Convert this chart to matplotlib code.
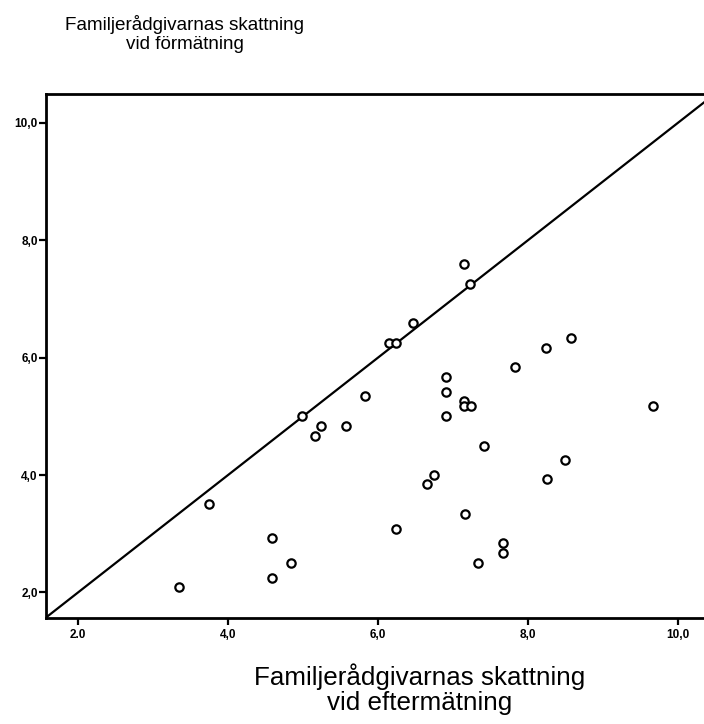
import matplotlib
matplotlib.use("Agg")
import matplotlib.pyplot as plt

plt.rcParams['font.family'] = ['Liberation Sans', 'DejaVu Sans']

# Data: x = eftermätning, y = förmätning
x_efter = [7.14, 7.23, 6.47, 6.15, 6.24, 8.57, 8.24, 7.82, 6.90, 6.90,
           7.15, 7.15, 7.24, 6.90, 5.83, 4.99, 5.24, 5.16, 5.57, 9.66,
           7.41, 8.49, 8.25, 3.75, 6.74, 6.65, 7.16, 6.24, 4.59, 7.67,
           7.67, 4.84, 7.33, 4.59, 3.34]
y_fore = [7.59, 7.26, 6.59, 6.25, 6.25, 6.34, 6.17, 5.84, 5.67, 5.42,
          5.26, 5.17, 5.17, 5.01, 5.34, 5.00, 4.84, 4.67, 4.84, 5.18,
          4.50, 4.25, 3.93, 3.50, 4.00, 3.84, 3.34, 3.08, 2.92, 2.85,
          2.67, 2.50, 2.50, 2.25, 2.09]

x_ticks = [2, 4, 6, 8, 10]
x_ticklabels = ["2.0", "4,0", "6,0", "8,0", "10,0"]
y_ticks = [2, 4, 6, 8, 10]
y_ticklabels = ["2,0", "4,0", "6,0", "8,0", "10,0"]

y_title = "Familjerådgivarnas skattning\nvid förmätning"
x_title = "Familjerådgivarnas skattning\nvid eftermätning"

fig = plt.figure(figsize=(7.04, 7.24), dpi=100)
ax = fig.add_axes([46/704, (724-617.7)/724, (712-46)/704, (617.7-94)/724])

xmin, xmax = 1.573, 2 + (712-78)/75
ymin, ymax = 1.57, 10.49
ax.set_xlim(xmin, xmax)
ax.set_ylim(ymin, ymax)

# identity line
lo, hi = min(xmin, ymin), max(xmax, ymax)
ax.plot([lo, hi], [lo, hi], color='black', lw=1.6, zorder=2)

ax.plot(x_efter, y_fore, linestyle='none', marker='o', markersize=6,
        markerfacecolor='white', markeredgecolor='black', markeredgewidth=1.6,
        zorder=3)

ax.set_xticks(x_ticks)
ax.set_xticklabels(x_ticklabels, fontsize=8.5, fontweight='bold')
ax.set_yticks(y_ticks)
ax.set_yticklabels(y_ticklabels, fontsize=8.5, fontweight='bold')
ax.tick_params(axis='x', direction='out', length=5, width=1.6, pad=3)
ax.tick_params(axis='y', direction='out', length=5, width=1.6, pad=1)

for s in ['left', 'bottom', 'top']:
    ax.spines[s].set_linewidth(2)
ax.spines['right'].set_visible(False)

fig.text(185/704, 1 - 34/724, y_title, ha='center', va='center',
         fontsize=13.6, linespacing=1.15)
fig.text(420/704, 1 - 689/724, x_title, ha='center', va='center',
         fontsize=18.7, linespacing=1.05)

fig.savefig("out.png", dpi=100)
